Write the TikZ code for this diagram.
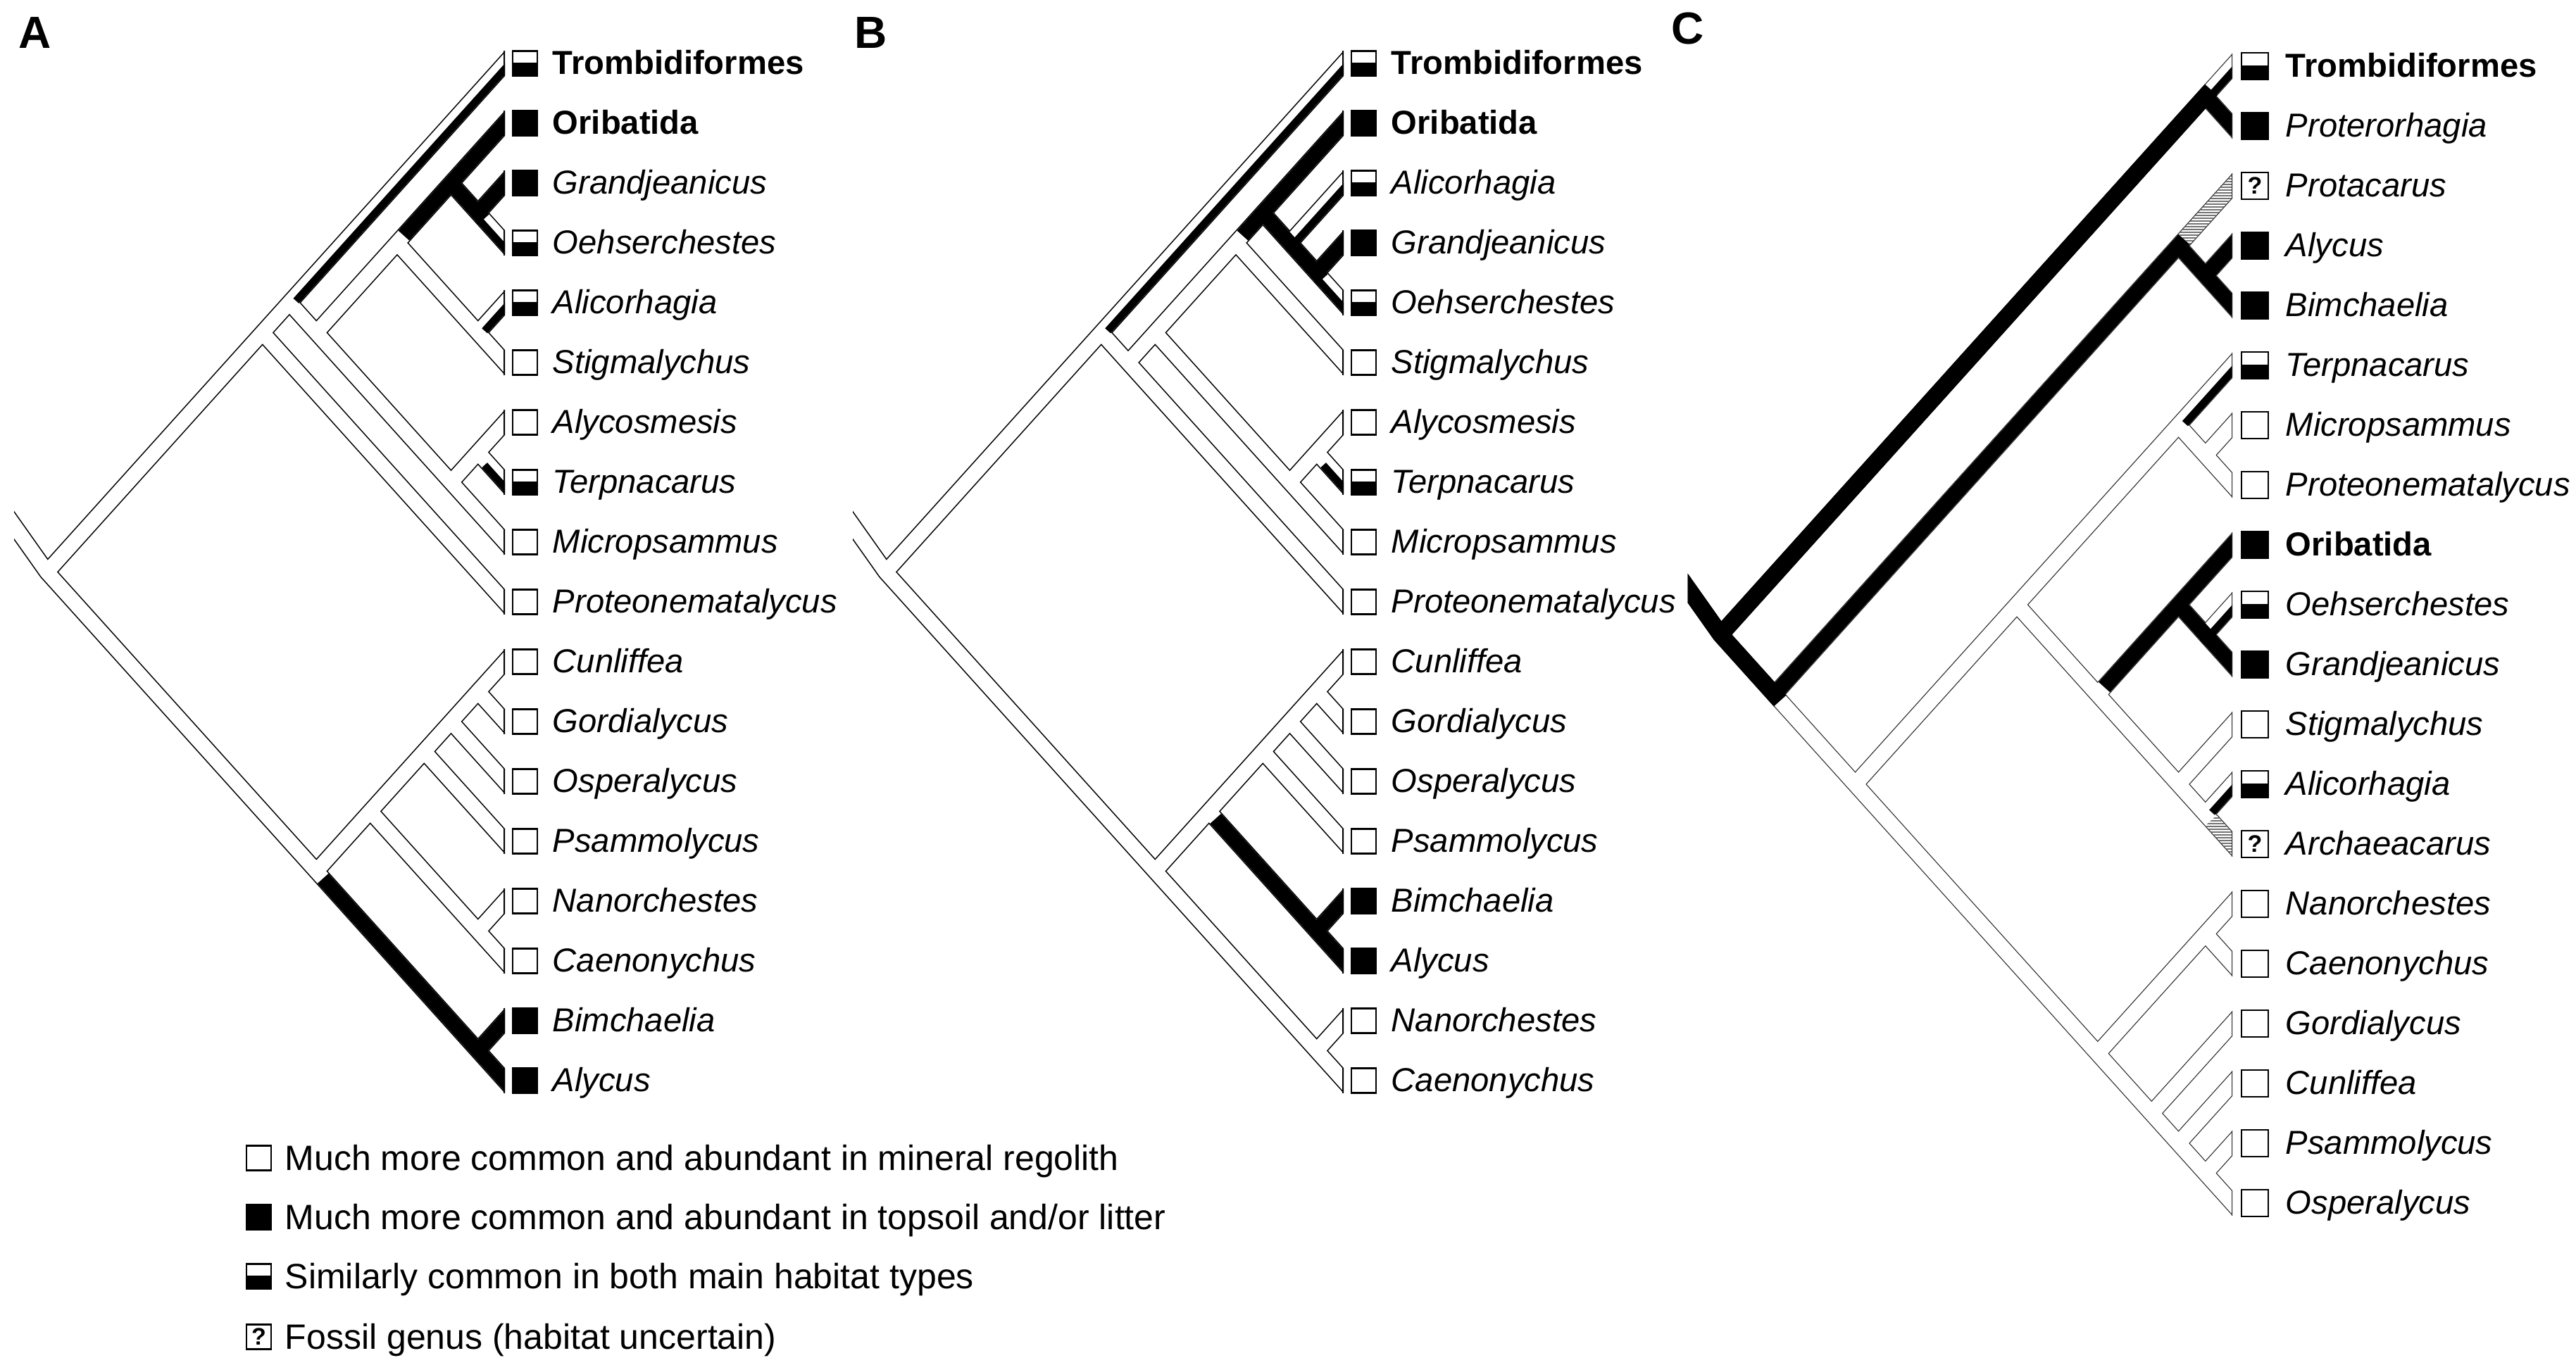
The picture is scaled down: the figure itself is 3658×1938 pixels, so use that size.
\documentclass[tikz,border=0pt]{standalone}
\usepackage{fontspec}
\setmainfont{Liberation Sans}
\usetikzlibrary{calc,patterns.meta}
\newcommand\mknode[5]{\coordinate (#1) at ({#2-38.25*(#5-#4)},{#3+42.5*(#4+#5-2)});}
\newcommand\segL[4]{\draw[#1] ($(#2)!#4!(#3)$) -- ($(#3)!-12pt!(#2)$);}
\newcommand\segN[4]{\draw[#1] ($(#2)!#4!(#3)$) -- ($(#3)!-3pt!(#2)$);}
\newcommand\halfL[5]{\draw[#1] ($(#2)!#4!(#3)+(0,#5)$) -- ($(#3)!-12pt!(#2)+(0,#5)$);}
\newcommand\mkW[3]{\draw[sq,fill=white] ($(#1)+({#2-#3},{-#3})$) rectangle ($(#1)+({#2+#3},{#3})$);}
\newcommand\mkB[3]{\draw[sq,fill=black] ($(#1)+({#2-#3},{-#3})$) rectangle ($(#1)+({#2+#3},{#3})$);}
\newcommand\mkH[3]{\fill[white] ($(#1)+({#2-#3},{-#3})$) rectangle ($(#1)+({#2+#3},{#3})$);
  \fill[black] ($(#1)+({#2-#3},-1)$) rectangle ($(#1)+({#2+#3},{#3})$);
  \draw[sq] ($(#1)+({#2-#3},{-#3})$) rectangle ($(#1)+({#2+#3},{#3})$);}
\newcommand\mkQ[3]{\draw[sq,fill=white] ($(#1)+({#2-#3},{-#3})$) rectangle ($(#1)+({#2+#3},{#3})$);
  \node[qm] at ($(#1)+(#2,0)$) {?};}
\newcommand\leafi[6]{#2{#1}{#3}{#4}\node[lbl] at ($(#1)+(#5,15.5)$) {#6};}
\newcommand\lfA[3]{\leafi{A#1}{#2}{28.5}{17.5}{67}{#3}}
\newcommand\lfB[3]{\leafi{B#1}{#2}{28.5}{17.5}{67}{#3}}
\newcommand\lfC[3]{\leafi{C#1}{#2}{32}{19}{75}{#3}}
\begin{document}
\begin{tikzpicture}[x=0.25pt,y=-0.25pt,
  ol/.style={line width=6pt,black},
  wf/.style={line width=5.2pt,white},
  bf/.style={line width=5.2pt,black},
  hf/.style={line width=2.6pt,black},
  olc/.style={line width=6pt,black!85},
  wfc/.style={line width=5.4pt,white},
  bfc/.style={line width=5.4pt,black},
  hfc/.style={line width=2.7pt,black},
  tipl/.style={line width=0.4pt,black},
  tiplc/.style={line width=0.3pt,black!85},
  sq/.style={line width=0.6pt,draw=black},
  qm/.style={inner sep=0pt,font=\bfseries\fontsize{8.5}{9}\selectfont},
  lbl/.style={anchor=base west,inner sep=0pt,font=\fontsize{11.8}{14}\selectfont},
  lgd/.style={anchor=base west,inner sep=0pt,font=\fontsize{12.5}{15}\selectfont},
  panel/.style={anchor=base west,inner sep=0pt,font=\bfseries\fontsize{16}{18}\selectfont},
  hatch/.style={pattern={Lines[angle=0,distance=1pt,line width=0.3pt]},pattern color=black!55}]
\useasboundingbox (0,0) rectangle (3658,1938);
\fill[white] (0,0) rectangle (3658,1938);

% ---------------- Panel A ----------------
\foreach \i in {1,...,18} {\coordinate (A\i) at (717,{90+85*(\i-1)});}
\mknode{rA}{717}{90}{1}{18}
\mknode{a110}{717}{90}{1}{10}
\mknode{a19}{717}{90}{1}{9}
\mknode{a29}{717}{90}{2}{9}
\mknode{a26}{717}{90}{2}{6}
\mknode{a24}{717}{90}{2}{4}
\mknode{a34}{717}{90}{3}{4}
\mknode{a56}{717}{90}{5}{6}
\mknode{a79}{717}{90}{7}{9}
\mknode{a78}{717}{90}{7}{8}
\mknode{a1118}{717}{90}{11}{18}
\mknode{a1116}{717}{90}{11}{16}
\mknode{a1114}{717}{90}{11}{14}
\mknode{a1113}{717}{90}{11}{13}
\mknode{a1112}{717}{90}{11}{12}
\mknode{a1516}{717}{90}{15}{16}
\mknode{a1718}{717}{90}{17}{18}
\coordinate (sA) at ($(rA)+(-86.75,-122.7)$);
\def\linesA{rA/A1,a110/A10,a19/A9,a29/A2,a26/A6,a24/A4,a34/A3,a56/A5,a79/A7,a78/A8,a1118/A11,a1116/A16,a1114/A14,a1113/A13,a1112/A12,a1516/A15,a1718/A17}
\begin{scope}
\clip (20,0) rectangle (717,1600);
\foreach \bA/\bB in \linesA {\draw[ol] (\bA) -- ($(\bB)!-12pt!(\bA)$);}
\draw[ol] (sA) -- (rA) -- ($(A18)!-12pt!(rA)$);
\foreach \bA/\bB in \linesA {\draw[wf] (\bA) -- ($(\bB)!-12pt!(\bA)$);}
\draw[wf] (sA) -- (rA) -- ($(A18)!-12pt!(rA)$);
\halfL{hf}{a19}{A1}{3.5pt}{7.77}
\segL{bf}{a26}{A2}{3.5pt}
\segN{bf}{a24}{a34}{0pt}
\segL{bf}{a34}{A3}{0pt}
\halfL{hf}{a34}{A4}{0pt}{7.77}
\halfL{hf}{a56}{A5}{3.5pt}{7.77}
\halfL{hf}{a78}{A8}{3.5pt}{7.77}
\segL{bf}{a1118}{A18}{3.5pt}
\segL{bf}{a1718}{A17}{0pt}
\foreach \i in {1,...,18} {\draw[tipl] ($(A\i)+(-0.8,-17.9)$) -- ($(A\i)+(-0.8,17.9)$);}
\end{scope}
\lfA{1}{\mkH}{\textbf{Trombidiformes}}
\lfA{2}{\mkB}{\textbf{Oribatida}}
\lfA{3}{\mkB}{\textit{Grandjeanicus}}
\lfA{4}{\mkH}{\textit{Oehserchestes}}
\lfA{5}{\mkH}{\textit{Alicorhagia}}
\lfA{6}{\mkW}{\textit{Stigmalychus}}
\lfA{7}{\mkW}{\textit{Alycosmesis}}
\lfA{8}{\mkH}{\textit{Terpnacarus}}
\lfA{9}{\mkW}{\textit{Micropsammus}}
\lfA{10}{\mkW}{\textit{Proteonematalycus}}
\lfA{11}{\mkW}{\textit{Cunliffea}}
\lfA{12}{\mkW}{\textit{Gordialycus}}
\lfA{13}{\mkW}{\textit{Osperalycus}}
\lfA{14}{\mkW}{\textit{Psammolycus}}
\lfA{15}{\mkW}{\textit{Nanorchestes}}
\lfA{16}{\mkW}{\textit{Caenonychus}}
\lfA{17}{\mkB}{\textit{Bimchaelia}}
\lfA{18}{\mkB}{\textit{Alycus}}
\node[panel] (pA) at (26,68) {A};

% ---------------- Panel B ----------------
\foreach \i in {1,...,18} {\coordinate (B\i) at (1908,{90+85*(\i-1)});}
\mknode{rB}{1908}{90}{1}{18}
\mknode{b110}{1908}{90}{1}{10}
\mknode{b210}{1908}{90}{2}{10}
\mknode{b29}{1908}{90}{2}{9}
\mknode{b26}{1908}{90}{2}{6}
\mknode{b25}{1908}{90}{2}{5}
\mknode{b35}{1908}{90}{3}{5}
\mknode{b45}{1908}{90}{4}{5}
\mknode{b79}{1908}{90}{7}{9}
\mknode{b78}{1908}{90}{7}{8}
\mknode{b1118}{1908}{90}{11}{18}
\mknode{b1116}{1908}{90}{11}{16}
\mknode{b1114}{1908}{90}{11}{14}
\mknode{b1113}{1908}{90}{11}{13}
\mknode{b1112}{1908}{90}{11}{12}
\mknode{b1516}{1908}{90}{15}{16}
\mknode{b1718}{1908}{90}{17}{18}
\coordinate (sB) at ($(rB)+(-86.75,-122.7)$);
\def\linesB{rB/B1,b110/B10,b210/B2,b29/B9,b26/B6,b25/B5,b35/B3,b45/B4,b79/B7,b78/B8,b1118/B11,b1116/B16,b1114/B14,b1113/B13,b1112/B12,b1516/B15,b1718/B17}
\begin{scope}
\clip (1211,0) rectangle (1908,1600);
\foreach \bA/\bB in \linesB {\draw[ol] (\bA) -- ($(\bB)!-12pt!(\bA)$);}
\draw[ol] (sB) -- (rB) -- ($(B18)!-12pt!(rB)$);
\foreach \bA/\bB in \linesB {\draw[wf] (\bA) -- ($(\bB)!-12pt!(\bA)$);}
\draw[wf] (sB) -- (rB) -- ($(B18)!-12pt!(rB)$);
\halfL{hf}{b110}{B1}{3.5pt}{7.77}
\segL{bf}{b26}{B2}{3.5pt}
\segN{bf}{b25}{b45}{0pt}
\segL{bf}{b45}{B4}{0pt}
\halfL{hf}{b35}{B3}{0pt}{7.77}
\halfL{hf}{b45}{B5}{0pt}{7.77}
\halfL{hf}{b78}{B8}{3.5pt}{7.77}
\segL{bf}{b1116}{B16}{3.5pt}
\segL{bf}{b1516}{B15}{0pt}
\foreach \i in {1,...,18} {\draw[tipl] ($(B\i)+(-0.8,-17.9)$) -- ($(B\i)+(-0.8,17.9)$);}
\end{scope}
\lfB{1}{\mkH}{\textbf{Trombidiformes}}
\lfB{2}{\mkB}{\textbf{Oribatida}}
\lfB{3}{\mkH}{\textit{Alicorhagia}}
\lfB{4}{\mkB}{\textit{Grandjeanicus}}
\lfB{5}{\mkH}{\textit{Oehserchestes}}
\lfB{6}{\mkW}{\textit{Stigmalychus}}
\lfB{7}{\mkW}{\textit{Alycosmesis}}
\lfB{8}{\mkH}{\textit{Terpnacarus}}
\lfB{9}{\mkW}{\textit{Micropsammus}}
\lfB{10}{\mkW}{\textit{Proteonematalycus}}
\lfB{11}{\mkW}{\textit{Cunliffea}}
\lfB{12}{\mkW}{\textit{Gordialycus}}
\lfB{13}{\mkW}{\textit{Osperalycus}}
\lfB{14}{\mkW}{\textit{Psammolycus}}
\lfB{15}{\mkB}{\textit{Bimchaelia}}
\lfB{16}{\mkB}{\textit{Alycus}}
\lfB{17}{\mkW}{\textit{Nanorchestes}}
\lfB{18}{\mkW}{\textit{Caenonychus}}
\node[panel] (pB) at (1213,68) {B};

% ---------------- Panel C ----------------
\foreach \i in {1,...,20} {\coordinate (C\i) at (3170,{94+85*(\i-1)});}
\mknode{rC}{3170}{94}{1}{20}
\mknode{c12}{3170}{94}{1}{2}
\mknode{c320}{3170}{94}{3}{20}
\mknode{c35}{3170}{94}{3}{5}
\mknode{c45}{3170}{94}{4}{5}
\mknode{c620}{3170}{94}{6}{20}
\mknode{c614}{3170}{94}{6}{14}
\mknode{c68}{3170}{94}{6}{8}
\mknode{c78}{3170}{94}{7}{8}
\mknode{c914}{3170}{94}{9}{14}
\mknode{c911}{3170}{94}{9}{11}
\mknode{c1011}{3170}{94}{10}{11}
\mknode{c1214}{3170}{94}{12}{14}
\mknode{c1314}{3170}{94}{13}{14}
\mknode{c1520}{3170}{94}{15}{20}
\mknode{c1516}{3170}{94}{15}{16}
\mknode{c1720}{3170}{94}{17}{20}
\mknode{c1820}{3170}{94}{18}{20}
\mknode{c1920}{3170}{94}{19}{20}
\coordinate (sC) at ($(rC)+(-86.75,-122.7)$);
\def\linesC{rC/C1,c12/C2,c320/C3,c35/C5,c45/C4,c620/C6,c614/C14,c68/C8,c78/C7,c914/C9,c911/C11,c1011/C10,c1214/C12,c1314/C13,c1520/C15,c1516/C16,c1720/C17,c1820/C18,c1920/C19}
\begin{scope}
\clip (2396.5,0) rectangle (3170,1800);
\foreach \bA/\bB in \linesC {\draw[olc] (\bA) -- ($(\bB)!-12pt!(\bA)$);}
\draw[olc] (sC) -- (rC) -- ($(C20)!-12pt!(rC)$);
\foreach \bA/\bB in \linesC {\draw[wfc] (\bA) -- ($(\bB)!-12pt!(\bA)$);}
\draw[wfc] (sC) -- (rC) -- ($(C20)!-12pt!(rC)$);
\draw[line width=6pt,black] (sC) -- (rC) -- ($(c320)!-3pt!(rC)$);
\draw[line width=6pt,black] (rC) -- ($(c12)!-3pt!(rC)$);
\halfL{hfc}{c12}{C1}{0pt}{8.07}
\segL{bfc}{c12}{C2}{0pt}
\segN{bfc}{c320}{c35}{0pt}
\segL{bfc}{c35}{C5}{0pt}
\segL{bfc}{c45}{C4}{0pt}
\fill[hatch] (3093.5,332.9) -- (3170,247.9) -- (3170,280.1) -- (3109.5,347.3) -- cycle;
\halfL{hfc}{c68}{C6}{3.5pt}{8.07}
\segL{bfc}{c914}{C9}{3.5pt}
\segN{bfc}{c911}{c1011}{0pt}
\segL{bfc}{c1011}{C11}{0pt}
\halfL{hfc}{c1011}{C10}{0pt}{8.07}
\halfL{hfc}{c1314}{C13}{3.5pt}{8.07}
\fill[hatch] (3147.8,1158.2) -- (3170,1182.9) -- (3170,1215.1) -- (3131.8,1172.6) -- cycle;
\foreach \i in {1,...,20} {\draw[tiplc] ($(C\i)+(-0.6,-17.9)$) -- ($(C\i)+(-0.6,17.9)$);}
\end{scope}
\lfC{1}{\mkH}{\textbf{Trombidiformes}}
\lfC{2}{\mkB}{\textit{Proterorhagia}}
\lfC{3}{\mkQ}{\textit{Protacarus}}
\lfC{4}{\mkB}{\textit{Alycus}}
\lfC{5}{\mkB}{\textit{Bimchaelia}}
\lfC{6}{\mkH}{\textit{Terpnacarus}}
\lfC{7}{\mkW}{\textit{Micropsammus}}
\lfC{8}{\mkW}{\textit{Proteonematalycus}}
\lfC{9}{\mkB}{\textbf{Oribatida}}
\lfC{10}{\mkH}{\textit{Oehserchestes}}
\lfC{11}{\mkB}{\textit{Grandjeanicus}}
\lfC{12}{\mkW}{\textit{Stigmalychus}}
\lfC{13}{\mkH}{\textit{Alicorhagia}}
\lfC{14}{\mkQ}{\textit{Archaeacarus}}
\lfC{15}{\mkW}{\textit{Nanorchestes}}
\lfC{16}{\mkW}{\textit{Caenonychus}}
\lfC{17}{\mkW}{\textit{Gordialycus}}
\lfC{18}{\mkW}{\textit{Cunliffea}}
\lfC{19}{\mkW}{\textit{Psammolycus}}
\lfC{20}{\mkW}{\textit{Osperalycus}}
\node[panel] (pC) at (2373,63) {C};

% ---------------- Legend ----------------
\coordinate (L1) at (367.5,1645);
\coordinate (L2) at (367.5,1729);
\coordinate (L3) at (367.5,1813);
\coordinate (L4) at (367.5,1899);
\mkW{L1}{0}{17.5}
\node[lgd] (t1) at ($(L1)+(36.5,17)$) {Much more common and abundant in mineral regolith};
\mkB{L2}{0}{17.5}
\node[lgd] (t2) at ($(L2)+(36.5,17)$) {Much more common and abundant in topsoil and/or litter};
\mkH{L3}{0}{17.5}
\node[lgd] (t3) at ($(L3)+(36.5,17)$) {Similarly common in both main habitat types};
\mkQ{L4}{0}{17.5}
\node[lgd] (t4) at ($(L4)+(36.5,17)$) {Fossil genus (habitat uncertain)};
\end{tikzpicture}
\end{document}
